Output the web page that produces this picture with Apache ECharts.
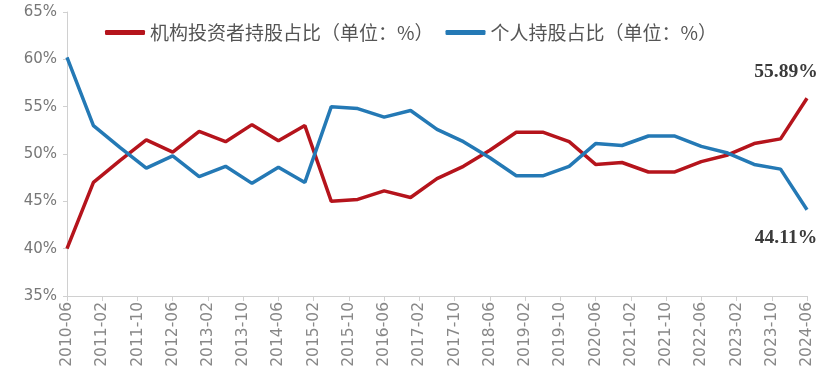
<!DOCTYPE html>
<html><head><meta charset="utf-8">
<script src="https://cdn.jsdelivr.net/npm/echarts@6/dist/echarts.min.js"></script>
<style>html,body{margin:0;padding:0;background:#fff}#c{width:831px;height:379px}</style>
</head><body><div id="c"></div>
<script>
const dates = ['2010-06','2010-12','2011-06','2011-12','2012-06','2012-12','2013-06','2013-12','2014-06','2014-12',
  '2015-06','2015-12','2016-06','2016-12','2017-06','2017-12','2018-06','2018-12','2019-06','2019-12',
  '2020-06','2020-12','2021-06','2021-12','2022-06','2022-12','2023-06','2023-12','2024-06'];
const institutional = [40.0,47.0,49.3,51.5,50.2,52.4,51.3,53.1,51.4,53.0,
  45.0,45.2,46.1,45.4,47.4,48.7,50.4,52.3,52.3,51.3,
  48.9,49.1,48.1,48.1,49.2,49.9,51.1,51.6,55.89];
const individual = [60.2,53.0,50.7,48.5,49.8,47.6,48.7,46.9,48.6,47.0,
  55.0,54.8,53.9,54.6,52.6,51.3,49.6,47.7,47.7,48.7,
  51.1,50.9,51.9,51.9,50.8,50.1,48.9,48.4,44.11];
const tickLabels = ['2010-06','2011-02','2011-10','2012-06','2013-02','2013-10','2014-06','2015-02','2015-10','2016-06','2017-02',
  '2017-10','2018-06','2019-02','2019-10','2020-06','2021-02','2021-10','2022-06','2023-02','2023-10','2024-06'];
const seriesNames = ['机构投资者持股占比（单位：%）','个人持股占比（单位：%）'];

// monthly axis categories
const months = [];
for (let y = 2010, m = 6; y < 2024 || (y === 2024 && m <= 6); ) {
  months.push(y + '-' + String(m).padStart(2, '0'));
  m++; if (m > 12) { m = 1; y++; }
}
const toData = vals => vals.map((v, i) => [dates[i], v]);
const endLbl = (vAlign, dy) => ({
  show: true, formatter: p => p.value[1].toFixed(2) + '%',
  align: 'center', verticalAlign: vAlign, offset: [-21, dy], distance: 0,
  fontFamily: 'Liberation Serif', fontSize: 19.5, fontWeight: 'bold', color: '#3a3a3a'
});
const isTick = (i, v) => tickLabels.includes(v);
const chart = echarts.init(document.getElementById('c'), null, { renderer: 'canvas' });
chart.setOption({
  animation: false,
  backgroundColor: '#fff',
  grid: { left: 67, right: 24, top: 12, bottom: 83 },
  legend: {
    top: 18, left: 100, itemWidth: 40, itemHeight: 5, itemGap: 12, icon: 'roundRect',
    textStyle: { fontFamily: 'Noto Sans CJK SC', fontSize: 19, color: '#555' },
    data: seriesNames
  },
  xAxis: {
    type: 'category', data: months, boundaryGap: false,
    axisLine: { lineStyle: { color: '#d0d0d0', width: 1 } },
    axisTick: { interval: isTick, length: 5, lineStyle: { color: '#d0d0d0' } },
    axisLabel: { interval: isTick, rotate: 90, fontFamily: 'DejaVu Sans', fontSize: 15.5, color: '#888', margin: 6 }
  },
  yAxis: {
    type: 'value', min: 35, max: 65, interval: 5,
    splitLine: { show: false },
    axisLine: { show: true, lineStyle: { color: '#d0d0d0' } },
    axisTick: { show: true, length: 4, lineStyle: { color: '#d0d0d0' } },
    axisLabel: { formatter: '{value}%', fontFamily: 'DejaVu Sans', fontSize: 15, color: '#777', margin: 10 }
  },
  series: [
    { name: seriesNames[0], type: 'line', data: toData(institutional), symbol: 'none',
      endLabel: endLbl('bottom', -16),
      lineStyle: { color: '#B5141C', width: 3.5 }, itemStyle: { color: '#B5141C' } },
    { name: seriesNames[1], type: 'line', data: toData(individual), symbol: 'none',
      endLabel: endLbl('top', 18),
      lineStyle: { color: '#2479B5', width: 3.5 }, itemStyle: { color: '#2479B5' } }
  ]
});
</script></body></html>
